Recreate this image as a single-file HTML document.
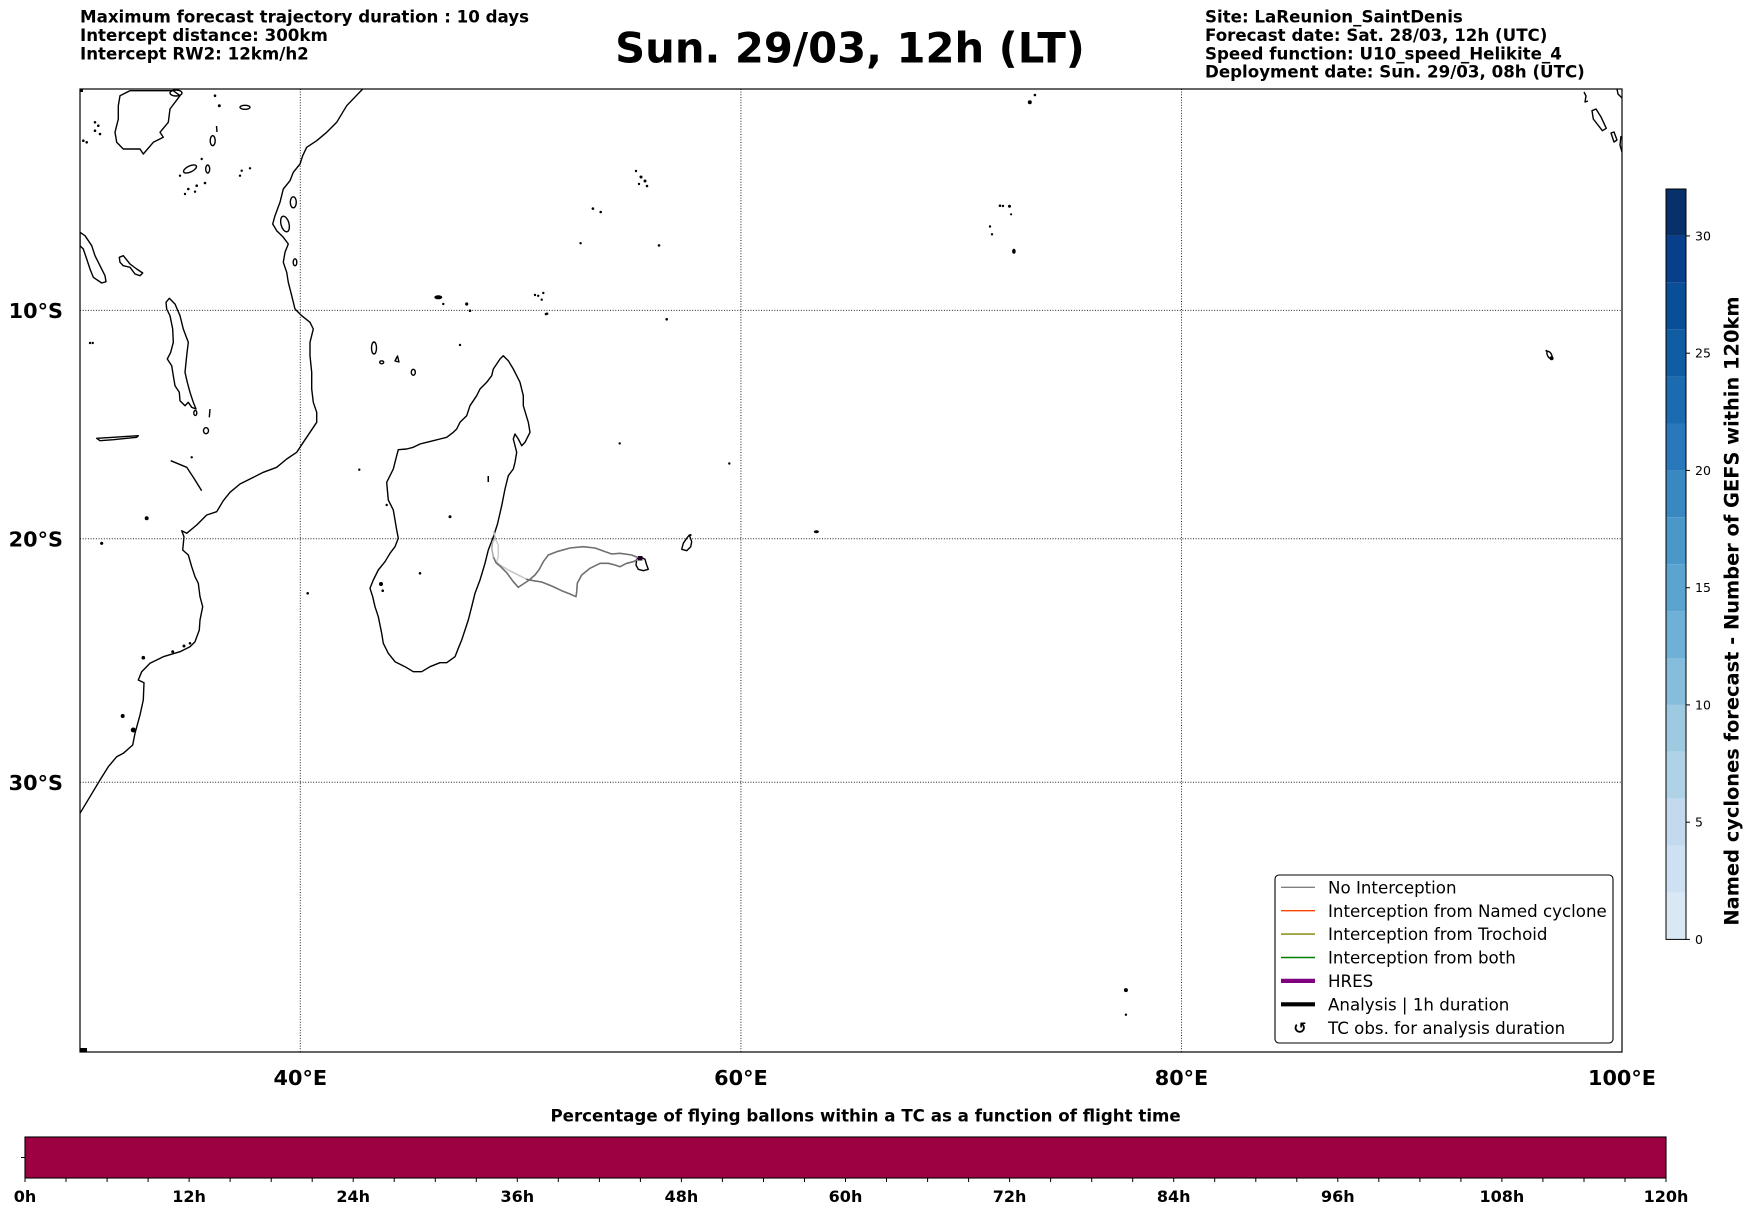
<!DOCTYPE html>
<html>
<head>
<meta charset="utf-8">
<style>
  html,body{margin:0;padding:0;background:#fff;}
  svg{display:block;}
  text{font-family:"DejaVu Sans","Liberation Sans",sans-serif;}
</style>
</head>
<body>
<svg width="1752" height="1213" viewBox="0 0 1752 1213" xmlns="http://www.w3.org/2000/svg">
  <rect x="0" y="0" width="1752" height="1213" fill="#fff"/>

  <!-- Header texts -->
  <g font-weight="bold" font-size="16.67" fill="#000">
    <text x="80" y="22.7">Maximum forecast trajectory duration : 10 days</text>
    <text x="80" y="41">Intercept distance: 300km</text>
    <text x="80" y="59.3">Intercept RW2: 12km/h2</text>
    <text x="1205" y="22.7">Site: LaReunion_SaintDenis</text>
    <text x="1205" y="41">Forecast date: Sat. 28/03, 12h (UTC)</text>
    <text x="1205" y="59.3">Speed function: U10_speed_Helikite_4</text>
    <text x="1205" y="77.6">Deployment date: Sun. 29/03, 08h (UTC)</text>
  </g>
  <text x="850" y="62.7" font-weight="bold" font-size="41.7" text-anchor="middle">Sun. 29/03, 12h (LT)</text>

  <defs>
    <clipPath id="ax"><rect x="80" y="89" width="1542" height="963"/></clipPath>
  </defs>

  <g clip-path="url(#ax)">
    <!-- grid -->
    <g stroke="#222" stroke-width="1" stroke-dasharray="1,1.65" fill="none">
      <line x1="300.3" y1="89" x2="300.3" y2="1052"/>
      <line x1="740.9" y1="89" x2="740.9" y2="1052"/>
      <line x1="1181.5" y1="89" x2="1181.5" y2="1052"/>
      <line x1="80" y1="310.4" x2="1622" y2="310.4"/>
      <line x1="80" y1="538.8" x2="1622" y2="538.8"/>
      <line x1="80" y1="782.3" x2="1622" y2="782.3"/>
    </g>

    <!-- coastlines -->
    <g stroke="#000" stroke-width="1.4" fill="none" stroke-linejoin="round">
      <!-- Africa -->
      <polyline points="362.7,89 346.7,105.7 336.7,122.3 326.7,132.3 316.7,140.7 306.7,147.3 302.7,155.7 300,164 293.3,172.3 290,180.7 283.3,189 280,202.3 275,215.7 272.7,224 276.7,230.7 283.3,237.3 288.3,244 285,252.3 283.3,262.3 286.7,272.3 288.3,282.3 291.7,295.7 295,309 301.7,315.7 310,322.3 313.3,329 310,342.3 310,355.7 311.7,372.3 311.7,389 313.3,402.3 316.7,412.3 316.7,422.3 310,432.3 303.3,442.3 296.7,452.3 286.7,459 276.7,467.3 263.3,472.3 250,479 240,484 230,492.3 223.3,500.7 216.7,511.7 206.7,515 196.7,525 186.7,533.3 181.7,530.7 184,536.7 182.7,550 188.3,555 191.7,566.7 195,576.7 198.3,583.3 200,596.7 202.7,606.7 200,620 199.3,630 195,641.7 190,646.7 180,651.7 163.3,656.7 150,663.3 141.7,671.7 138.3,680 144,682.7 143.3,700 140,715 135,733.3 132.7,745 123.3,753.3 116.7,756.7 108.3,766.7 100,780 90,796.7 80,813.3"/>
      <!-- Madagascar -->
      <polygon points="503.3,355.7 508.3,360.7 513.3,369 516.7,375.7 520,382.3 523.3,395.7 523.3,405.7 528.3,422.3 530,432.3 525,442.3 521.7,445.7 518.3,439 515,434 513.3,439 516.7,452.3 515,462.3 513.3,469 508.3,475.7 505,489 501.7,505.7 497.5,524 493.3,537 488.3,550 485,563.3 480,580 475,593.3 471.7,606.7 468.3,620 465,630 461.7,640 458.3,648.3 455,656.7 446.7,662.7 440,662.7 430,666.7 421.7,671.7 413.3,671.7 405,666.7 395,661.7 388.3,653.3 383.3,643.3 381.7,633.3 380,625 378.3,616.7 375,606.7 372.7,596.7 370,588.3 373.3,580 378.3,570 385,561.7 390,553.3 395,546.7 398.3,538.3 396.7,530 395,520 393.3,510 388.3,500 387.3,489 386.7,482.3 390,475.7 393.3,469 395,462.3 396.7,455.7 398.3,449.7 406.7,449 413.3,447.3 420,444 426.7,442.3 433.3,440.7 440,439 446.7,437.3 453.3,432.3 456.7,429 460,422.3 466.7,415.7 470,405.7 476.7,395.7 480,389 486.7,382.3 491.7,375.7 493.3,369 496.7,364 500,359"/>
      <!-- Lake Victoria -->
      <polygon points="120,95.7 130,90.7 173.3,90.7 180,95.7 170,109 168.3,122.3 160,132.3 163.3,137.3 153.3,142.3 143.3,154 140,149 123.3,149 116.7,142.3 115,132.3 118.3,119 118.3,105.7"/>
      <ellipse cx="176" cy="93" rx="6" ry="3"/>
      <!-- Lake Tanganyika -->
      <polygon points="80,232.3 85,235.7 91.7,245.7 95,255.7 100,265.7 105,275.7 106,281.7 101.7,283 93.3,277.3 90,269 86.7,259 83.3,249 80,245.7"/>
      <!-- Lake Rukwa -->
      <polygon points="119.3,257.3 123.3,255.7 130,264 136.7,269 142.7,273 140,275.7 135,274 130,267.3 123.3,265.7 120,262.3"/>
      <!-- Lake Malawi -->
      <polygon points="166,302.3 169.3,298.3 175,304 180,315.7 183.3,329 188.3,342.3 186.7,355.7 185,372.3 187.3,382.3 190,392.3 193.3,402.3 196,409 191.7,407.3 188.3,402.3 185,405.7 180,400.7 179.3,392.3 175,385.7 173.3,375.7 171.7,365.7 167.3,359 170.7,352.3 173.3,342.3 172.7,329 170,315.7 166.7,309"/>
      <ellipse cx="195.3" cy="413" rx="1.5" ry="2.5"/>
      <line x1="210" y1="409" x2="209.3" y2="417.3"/>
      <ellipse cx="206" cy="430.7" rx="2.5" ry="3"/>
      <!-- Lake Kariba -->
      <polygon points="96.7,438.3 113.3,437.3 138.3,435.7 136.7,437.3 113.3,439.7 100,440.7"/>
      <!-- Cahora Bassa -->
      <polyline points="170.7,460.7 186.7,467.3 193.3,477.3 201.7,490.7"/>
      <!-- Kivu etc -->
      <ellipse cx="212.7" cy="140.7" rx="2.5" ry="5"/>
      <line x1="216.5" y1="126" x2="217" y2="132"/>
      <ellipse cx="190" cy="169" rx="7" ry="3" transform="rotate(-25 190 169)"/>
      <ellipse cx="207.7" cy="169" rx="2" ry="4"/>
      <ellipse cx="245" cy="107.3" rx="5" ry="2"/>
      <!-- Zanzibar, Pemba, Mafia -->
      <ellipse cx="293.3" cy="202.3" rx="3" ry="5.5"/>
      <ellipse cx="285" cy="224" rx="4" ry="8" transform="rotate(-15 285 224)"/>
      <ellipse cx="295" cy="262.3" rx="1.8" ry="3.5"/>
      <!-- Comoros -->
      <ellipse cx="374" cy="348" rx="2.5" ry="6"/>
      <ellipse cx="381.7" cy="362.3" rx="2" ry="1.5"/>
      <polygon points="395,361 397.5,356 399,362"/>
      <ellipse cx="413.3" cy="372.3" rx="2" ry="3"/>
      <!-- Réunion -->
      <polygon points="636.7,559.3 640,556.7 645,559.3 646.7,565 648.3,569.3 643.3,570.7 638.3,569.3 636,565"/>
      <!-- Mauritius -->
      <polygon points="683.3,543.3 686.7,538.3 689.3,535 691.7,541.7 690.7,546.7 686.7,550.7 681.7,549.3"/>
      <!-- Sumatra offshore islands -->
      <polygon points="1592,110.7 1596,109 1601.2,117.3 1606.3,128.3 1602.4,130.7 1593.3,119"/>
      <polygon points="1611,133 1614,132 1617,140 1614,142"/>
      <polyline points="1584,92 1586,96 1585,102 1588,101"/>
      <polyline points="1617,89 1618,94 1622,98"/>
      <polyline points="1621,136 1620,145 1622,152"/>
      <ellipse cx="1549.5" cy="355" rx="2" ry="4" transform="rotate(-30 1549.5 355)"/>
    </g>

    <!-- small islands as dots -->
    <g fill="#000">
      <circle cx="215" cy="95.7" r="1.3"/><circle cx="219.3" cy="105.7" r="1.5"/>
      <circle cx="95" cy="122.3" r="1.3"/><circle cx="98.3" cy="125.7" r="1.3"/>
      <circle cx="95" cy="130.7" r="1.3"/><circle cx="100" cy="134" r="1.3"/>
      <circle cx="83.3" cy="140.7" r="1.3"/><circle cx="86.7" cy="142.3" r="1.3"/>
      <circle cx="180" cy="175.7" r="1.2"/><circle cx="201.7" cy="159" r="1.2"/>
      <circle cx="241.7" cy="170.7" r="1.2"/><circle cx="250" cy="168.3" r="1.2"/><circle cx="240" cy="175.7" r="1.2"/>
      <circle cx="188.3" cy="189" r="1.3"/><circle cx="196.7" cy="185.7" r="1.3"/><circle cx="205" cy="183" r="1.3"/>
      <circle cx="185" cy="194" r="1.2"/><circle cx="195" cy="191.7" r="1.2"/>
      <circle cx="90" cy="343" r="1.2"/><circle cx="92.7" cy="343" r="1.2"/>
      <circle cx="191.7" cy="457.3" r="1.2"/><circle cx="146.7" cy="518.3" r="2"/>
      <circle cx="101.7" cy="543.3" r="1.6"/><circle cx="143.3" cy="657.7" r="1.8"/>
      <circle cx="172.7" cy="651.7" r="1.5"/><circle cx="184" cy="646" r="1.5"/><circle cx="190" cy="643.3" r="1.3"/>
      <circle cx="122.7" cy="716" r="2"/><circle cx="133.3" cy="730" r="2.5"/>
      <circle cx="307.7" cy="593.3" r="1.3"/>
      <circle cx="359.3" cy="469.7" r="1.2"/><circle cx="386.7" cy="505" r="1.2"/>
      <circle cx="381" cy="584" r="2"/><circle cx="382.7" cy="590.7" r="1.3"/>
      <circle cx="420" cy="573.3" r="1.3"/><circle cx="450" cy="516.7" r="1.5"/>
      <rect x="487.5" y="476" width="1.5" height="6"/>
      <ellipse cx="438.3" cy="297.3" rx="4" ry="2"/>
      <circle cx="443.3" cy="304" r="1.2"/><circle cx="466.7" cy="304" r="1.6"/><circle cx="470" cy="310.7" r="1.3"/>
      <circle cx="460" cy="345" r="1.2"/>
      <circle cx="535" cy="295" r="1.2"/><circle cx="543.3" cy="293" r="1.2"/><circle cx="541.7" cy="299.7" r="1.2"/><circle cx="546" cy="314" r="1.3"/>
      <circle cx="636" cy="171" r="1.2"/><circle cx="641" cy="177" r="1.5"/><circle cx="645" cy="181" r="1.5"/><circle cx="647" cy="186" r="1.3"/><circle cx="639" cy="184" r="1.2"/>
      <circle cx="592.9" cy="208.6" r="1.3"/><circle cx="600.7" cy="212" r="1.3"/><circle cx="580.6" cy="243.2" r="1.2"/><circle cx="659" cy="245.4" r="1.3"/>
      <circle cx="538.2" cy="295.8" r="1.2"/><circle cx="547.2" cy="313.7" r="1.2"/>
      <circle cx="666.7" cy="319.3" r="1.3"/>
      <circle cx="619.7" cy="443.4" r="1.2"/><circle cx="729.3" cy="463.5" r="1.2"/>
      <ellipse cx="816.4" cy="531.7" rx="2.5" ry="1.5"/>
      <circle cx="690.7" cy="535" r="1"/>
      <circle cx="1029.8" cy="102.3" r="2"/><circle cx="1034.9" cy="95" r="1.3"/>
      <circle cx="1000" cy="205.7" r="1.3"/><circle cx="1003" cy="206" r="1.2"/><circle cx="1009.5" cy="206.3" r="1.5"/><circle cx="1011.1" cy="214.3" r="1.1"/>
      <circle cx="990" cy="226.5" r="1.2"/><circle cx="992" cy="234.3" r="1.2"/>
      <ellipse cx="1013.9" cy="251.3" rx="1.8" ry="2.5"/>
      <circle cx="1546.4" cy="350.7" r="1"/><circle cx="1551.6" cy="358.3" r="2"/>
      <circle cx="1125.9" cy="990.1" r="2"/><circle cx="1125.9" cy="1014.7" r="1.2"/>
      <rect x="80" y="1048" width="7" height="4"/>
      <rect x="80" y="89" width="3" height="3"/>
    </g>

    <!-- trajectories -->
    <g fill="none" stroke-width="1.6" stroke-linejoin="round" stroke-linecap="round">
      <polyline stroke="#cfcfcf" points="495,538.3 498.3,545 498.3,556.7 496.7,561.7"/>
      <polyline stroke="#c8c8c8" points="526.7,579.3 518.3,575 508.3,570 500,565 496,561.7"/>
      <polyline stroke="#707070" points="640,558.3 631.7,555 620,553.3 611.7,554 603.3,551 595,548 583.3,546.7 570,548 556.7,551.7 548.3,555 543.3,561.7 539.3,569.3 535,575 529.3,580 521.7,585 518.3,587.3 513.3,581.7 506.7,572.7 500,566 496,562.7 493.3,556.7"/>
      <polyline stroke="#b0b0b0" points="493.3,556.7 491.7,548.3 492.7,541.7 495,538.3 494,532"/>
      <polyline stroke="#707070" points="640,558.3 633.3,561.7 626.7,563.3 620,566.7 615,565 608.3,563.3 600,563.3 590,568.3 581.7,575 577.3,583.3 576.7,591.7 576,596.7 570,594 561.7,590.7 551.7,586 541.7,582 533.3,580.7 526.7,579.3"/>
    </g>
    <rect x="638" y="556" width="4.5" height="4.5" fill="#200020"/>
  </g>

  <!-- axes frame -->
  <rect x="80" y="89" width="1542" height="963" fill="none" stroke="#000" stroke-width="1.2"/>

  <!-- lat/lon labels -->
  <g font-weight="bold" font-size="20.8" fill="#000">
    <text x="63" y="318" text-anchor="end">10°S</text>
    <text x="63" y="546.4" text-anchor="end">20°S</text>
    <text x="63" y="790" text-anchor="end">30°S</text>
    <text x="300.3" y="1085" text-anchor="middle">40°E</text>
    <text x="740.9" y="1085" text-anchor="middle">60°E</text>
    <text x="1181.5" y="1085" text-anchor="middle">80°E</text>
    <text x="1622" y="1085" text-anchor="middle">100°E</text>
  </g>

  <!-- legend -->
  <rect x="1275" y="875" width="338" height="168" rx="4" ry="4" fill="#fff" stroke="#000" stroke-width="1.1"/>
  <g stroke-width="1.4">
    <line x1="1281" y1="887.3" x2="1315" y2="887.3" stroke="#808080"/>
    <line x1="1281" y1="910.7" x2="1315" y2="910.7" stroke="#ff4500"/>
    <line x1="1281" y1="934.1" x2="1315" y2="934.1" stroke="#808000"/>
    <line x1="1281" y1="957.5" x2="1315" y2="957.5" stroke="#008000"/>
    <line x1="1281" y1="980.9" x2="1315" y2="980.9" stroke="#800080" stroke-width="4.2"/>
    <line x1="1281" y1="1004.3" x2="1315" y2="1004.3" stroke="#000" stroke-width="4.2"/>
  </g>
  <text x="1300" y="1033.5" font-size="16" font-weight="bold" text-anchor="middle">↺</text>
  <g font-size="16.67" fill="#000">
    <text x="1328" y="893.4">No Interception</text>
    <text x="1328" y="916.8">Interception from Named cyclone</text>
    <text x="1328" y="940.2">Interception from Trochoid</text>
    <text x="1328" y="963.6">Interception from both</text>
    <text x="1328" y="987">HRES</text>
    <text x="1328" y="1010.4">Analysis | 1h duration</text>
    <text x="1328" y="1033.8">TC obs. for analysis duration</text>
  </g>

  <!-- right colorbar -->
  <g>
    <rect x="1666" y="892.5" width="20" height="46.9" fill="#d9e8f5"/>
    <rect x="1666" y="845.6" width="20" height="46.9" fill="#cee1f2"/>
    <rect x="1666" y="798.7" width="20" height="46.9" fill="#c2d9ee"/>
    <rect x="1666" y="751.8" width="20" height="46.9" fill="#b0d2e7"/>
    <rect x="1666" y="704.9" width="20" height="46.9" fill="#9dcae1"/>
    <rect x="1666" y="658.0" width="20" height="46.9" fill="#86bddc"/>
    <rect x="1666" y="611.1" width="20" height="46.9" fill="#6fb0d7"/>
    <rect x="1666" y="564.2" width="20" height="46.9" fill="#5ca4d0"/>
    <rect x="1666" y="517.3" width="20" height="46.9" fill="#4998c9"/>
    <rect x="1666" y="470.4" width="20" height="46.9" fill="#3988c2"/>
    <rect x="1666" y="423.5" width="20" height="46.9" fill="#2a78bc"/>
    <rect x="1666" y="376.6" width="20" height="46.9" fill="#1c6bb0"/>
    <rect x="1666" y="329.7" width="20" height="46.9" fill="#115da4"/>
    <rect x="1666" y="282.8" width="20" height="46.9" fill="#084e99"/>
    <rect x="1666" y="235.9" width="20" height="46.9" fill="#083f8a"/>
    <rect x="1666" y="189.0" width="20" height="46.9" fill="#08306b"/>
    <rect x="1666" y="189" width="20" height="750.4" fill="none" stroke="#000" stroke-width="1"/>
    <g stroke="#000" stroke-width="1">
      <line x1="1686" y1="939.4" x2="1690" y2="939.4"/>
      <line x1="1686" y1="822.2" x2="1690" y2="822.2"/>
      <line x1="1686" y1="704.9" x2="1690" y2="704.9"/>
      <line x1="1686" y1="587.7" x2="1690" y2="587.7"/>
      <line x1="1686" y1="470.4" x2="1690" y2="470.4"/>
      <line x1="1686" y1="353.2" x2="1690" y2="353.2"/>
      <line x1="1686" y1="235.9" x2="1690" y2="235.9"/>
    </g>
    <g font-size="12.5" fill="#000">
      <text x="1695" y="943.9">0</text>
      <text x="1695" y="826.7">5</text>
      <text x="1695" y="709.4">10</text>
      <text x="1695" y="592.2">15</text>
      <text x="1695" y="474.9">20</text>
      <text x="1695" y="357.7">25</text>
      <text x="1695" y="240.4">30</text>
    </g>
    <text transform="translate(1738.5,611) rotate(-90)" font-size="19.4" font-weight="bold" text-anchor="middle">Named cyclones forecast - Number of GEFS within 120km</text>
  </g>

  <!-- bottom bar -->
  <text x="865.6" y="1121.4" font-size="16.67" font-weight="bold" text-anchor="middle">Percentage of flying ballons within a TC as a function of flight time</text>
  <rect x="25" y="1137" width="1641" height="41" fill="#9e0142" stroke="#000" stroke-width="1.1"/>
  <line x1="21" y1="1157.5" x2="25" y2="1157.5" stroke="#000" stroke-width="1"/>
  <g stroke="#000" stroke-width="1">
    <line x1="25" y1="1178" x2="25" y2="1182"/><line x1="66" y1="1178" x2="66" y2="1182"/><line x1="107.1" y1="1178" x2="107.1" y2="1182"/><line x1="148.1" y1="1178" x2="148.1" y2="1182"/>
    <line x1="189.1" y1="1178" x2="189.1" y2="1182"/><line x1="230.1" y1="1178" x2="230.1" y2="1182"/><line x1="271.2" y1="1178" x2="271.2" y2="1182"/><line x1="312.2" y1="1178" x2="312.2" y2="1182"/>
    <line x1="353.2" y1="1178" x2="353.2" y2="1182"/><line x1="394.2" y1="1178" x2="394.2" y2="1182"/><line x1="435.3" y1="1178" x2="435.3" y2="1182"/><line x1="476.3" y1="1178" x2="476.3" y2="1182"/>
    <line x1="517.3" y1="1178" x2="517.3" y2="1182"/><line x1="558.3" y1="1178" x2="558.3" y2="1182"/><line x1="599.4" y1="1178" x2="599.4" y2="1182"/><line x1="640.4" y1="1178" x2="640.4" y2="1182"/>
    <line x1="681.4" y1="1178" x2="681.4" y2="1182"/><line x1="722.4" y1="1178" x2="722.4" y2="1182"/><line x1="763.5" y1="1178" x2="763.5" y2="1182"/><line x1="804.5" y1="1178" x2="804.5" y2="1182"/>
    <line x1="845.5" y1="1178" x2="845.5" y2="1182"/><line x1="886.5" y1="1178" x2="886.5" y2="1182"/><line x1="927.6" y1="1178" x2="927.6" y2="1182"/><line x1="968.6" y1="1178" x2="968.6" y2="1182"/>
    <line x1="1009.6" y1="1178" x2="1009.6" y2="1182"/><line x1="1050.6" y1="1178" x2="1050.6" y2="1182"/><line x1="1091.7" y1="1178" x2="1091.7" y2="1182"/><line x1="1132.7" y1="1178" x2="1132.7" y2="1182"/>
    <line x1="1173.7" y1="1178" x2="1173.7" y2="1182"/><line x1="1214.7" y1="1178" x2="1214.7" y2="1182"/><line x1="1255.8" y1="1178" x2="1255.8" y2="1182"/><line x1="1296.8" y1="1178" x2="1296.8" y2="1182"/>
    <line x1="1337.8" y1="1178" x2="1337.8" y2="1182"/><line x1="1378.8" y1="1178" x2="1378.8" y2="1182"/><line x1="1419.9" y1="1178" x2="1419.9" y2="1182"/><line x1="1460.9" y1="1178" x2="1460.9" y2="1182"/>
    <line x1="1501.9" y1="1178" x2="1501.9" y2="1182"/><line x1="1542.9" y1="1178" x2="1542.9" y2="1182"/><line x1="1584" y1="1178" x2="1584" y2="1182"/><line x1="1625" y1="1178" x2="1625" y2="1182"/>
    <line x1="1666" y1="1178" x2="1666" y2="1182"/>
  </g>
  <g font-size="16" font-weight="bold" text-anchor="middle" fill="#000">
    <text x="25" y="1202">0h</text>
    <text x="189.1" y="1202">12h</text>
    <text x="353.2" y="1202">24h</text>
    <text x="517.3" y="1202">36h</text>
    <text x="681.4" y="1202">48h</text>
    <text x="845.5" y="1202">60h</text>
    <text x="1009.6" y="1202">72h</text>
    <text x="1173.7" y="1202">84h</text>
    <text x="1337.8" y="1202">96h</text>
    <text x="1501.9" y="1202">108h</text>
    <text x="1666" y="1202">120h</text>
  </g>
</svg>
</body>
</html>
